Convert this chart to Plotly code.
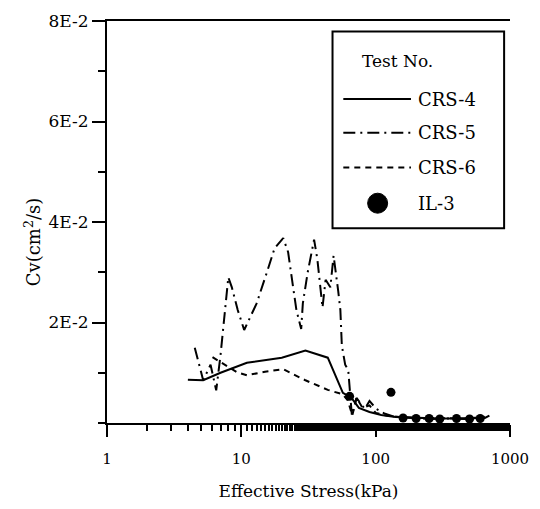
import plotly.graph_objects as go

# Effective stress (kPa) and coefficient of consolidation Cv (cm^2/s)
crs4_x = [4.0, 5.2, 7.0, 11.0, 20.0, 30.0, 44.0, 57.0, 66.0, 75.0, 90.0, 110.0, 140.0, 200.0, 300.0, 450.0, 650.0]
crs4_y = [0.0086, 0.0085, 0.0100, 0.0120, 0.0130, 0.0144, 0.0130, 0.0060, 0.0050, 0.0030, 0.0022,
          0.0016, 0.0012, 0.0010, 0.0009, 0.0009, 0.0010]

crs5_x = [4.5, 5.2, 5.9, 6.5, 7.0, 7.5, 8.0, 8.5, 9.4, 10.5, 13.0, 15.5, 17.7, 20.5, 22.3, 24.3,
          25.7, 27.9, 28.7, 31.2, 34.8, 36.8, 38.9, 40.2, 42.4, 46.0, 48.6, 50.0, 52.6, 54.6, 56.0,
          59.3, 62.5, 66.5, 72.0, 83.0, 90.0, 101.0, 116.0, 140.0, 180.0, 250.0, 350.0, 500.0,
          650.0, 720.0]
crs5_y = [0.0150, 0.0085, 0.0116, 0.0065, 0.0135, 0.0210, 0.0290, 0.0270, 0.0225, 0.0185, 0.0238,
          0.0300, 0.0348, 0.0368, 0.0340, 0.0270, 0.0225, 0.0187, 0.0238, 0.0300, 0.0365, 0.0326,
          0.0269, 0.0230, 0.0285, 0.0270, 0.0333, 0.0310, 0.0263, 0.0225, 0.0154, 0.0116, 0.0105,
          0.0015, 0.0050, 0.0028, 0.0044, 0.0028, 0.0019, 0.0012, 0.0010, 0.0008, 0.0009, 0.0008,
          0.0010, 0.0016]

crs6_x = [6.1, 9.3, 11.0, 15.0, 20.5, 30.0, 44.0, 57.0, 62.0, 67.0, 72.0, 80.0, 90.0, 100.0,
          120.0, 150.0, 200.0, 300.0, 450.0, 650.0]
crs6_y = [0.0131, 0.0101, 0.0095, 0.0102, 0.0107, 0.0085, 0.0066, 0.0057, 0.0045, 0.0015, 0.0050,
          0.0030, 0.0035, 0.0020, 0.0015, 0.0012, 0.0010, 0.0009, 0.0009, 0.0012]

il3_x = [64.0, 130.0, 160.0, 200.0, 250.0, 300.0, 400.0, 500.0, 600.0]
il3_y = [0.0053, 0.0061, 0.0010, 0.0009, 0.0009, 0.0008, 0.0009, 0.0008, 0.0009]

series_names = ["CRS-4", "CRS-5", "CRS-6", "IL-3"]
legend_title = "Test No."
y_title = "Cv(cm<sup>2</sup>/s)"
x_title = "Effective Stress(kPa)"

y_ticks = [0.02, 0.04, 0.06, 0.08]
y_tick_labels = ["2E-2", "4E-2", "6E-2", "8E-2"]
x_ticks = [1, 10, 100, 1000]
x_tick_labels = ["1", "10", "100", "1000"]

FONT = "DejaVu Serif"
W, H = 540, 509
ML, MR, MT, MB = 107, 22, 11, 81
PW, PH = W - ML - MR, H - MT - MB

SOLID = "solid"
DASHDOT = "12px,5px,2px,5px"
DASHED = "6px,5px"


def px(xp):
    """Horizontal pixel position -> paper fraction."""
    return (xp - ML) / PW


def py(yp):
    """Vertical pixel position (from top) -> paper fraction."""
    return (H - MB - yp) / PH


fig = go.Figure()
fig.add_trace(go.Scatter(x=crs4_x, y=crs4_y, mode="lines", name=series_names[0],
                         line=dict(color="black", width=2, dash=SOLID)))
fig.add_trace(go.Scatter(x=crs5_x, y=crs5_y, mode="lines", name=series_names[1],
                         line=dict(color="black", width=2, dash=DASHDOT)))
fig.add_trace(go.Scatter(x=crs6_x, y=crs6_y, mode="lines", name=series_names[2],
                         line=dict(color="black", width=2, dash=DASHED)))
fig.add_trace(go.Scatter(x=il3_x, y=il3_y, mode="markers", name=series_names[3],
                         marker=dict(color="black", size=9)))

# Boxed key in the upper right of the plot
box_l, box_r, box_t, box_b = 337, 512, 22, 226
shapes = [dict(type="rect", xref="paper", yref="paper",
               x0=px(box_l), x1=px(box_r), y0=py(box_b), y1=py(box_t),
               line=dict(color="black", width=2), fillcolor="white", layer="above")]
annotations = [dict(text=legend_title, xref="paper", yref="paper", x=px(403), y=py(53),
                    xanchor="center", yanchor="middle", showarrow=False,
                    font=dict(family=FONT, size=17, color="black"))]
row_y = [92, 127, 163, 200]
for name, dash, ry in zip(series_names[:3], [SOLID, DASHDOT, DASHED], row_y[:3]):
    shapes.append(dict(type="line", xref="paper", yref="paper",
                       x0=px(348), x1=px(417), y0=py(ry), y1=py(ry),
                       line=dict(color="black", width=2, dash=dash), layer="above"))
for name, ry in zip(series_names, row_y):
    annotations.append(dict(text=name, xref="paper", yref="paper", x=px(422), y=py(ry),
                            xanchor="left", yanchor="middle", showarrow=False,
                            font=dict(family=FONT, size=18, color="black")))
shapes.append(dict(type="circle", xref="paper", yref="paper",
                   xsizemode="pixel", ysizemode="pixel",
                   xanchor=px(383), yanchor=py(row_y[3]),
                   x0=-10, x1=10, y0=-10, y1=10,
                   line=dict(color="black", width=1), fillcolor="black", layer="above"))

# Vertical axis title, set a little below the middle of the axis
annotations.append(dict(text=y_title, xref="paper", yref="paper", x=px(31), y=py(240),
                        xanchor="center", yanchor="middle", textangle=-90, showarrow=False,
                        font=dict(family=FONT, size=18, color="black")))

fig.update_layout(
    width=W, height=H,
    margin=dict(l=ML, r=MR, t=MT, b=MB),
    paper_bgcolor="white", plot_bgcolor="white",
    font=dict(family=FONT, color="black", size=15),
    showlegend=False,
    shapes=shapes,
    annotations=annotations,
)

fig.update_xaxes(
    type="log", range=[0, 3],
    tickvals=x_ticks, ticktext=x_tick_labels,
    ticks="outside", ticklen=12, tickwidth=2, tickcolor="black",
    minor=dict(ticks="outside", ticklen=6, tickwidth=1.5, tickcolor="black", showgrid=False),
    showline=True, linecolor="black", linewidth=2, mirror=True,
    showgrid=False, zeroline=False,
    tickfont=dict(family=FONT, size=15),
    ticklabelstandoff=9,
    title=dict(text=x_title, font=dict(family=FONT, size=17), standoff=18),
)
fig.update_yaxes(
    range=[0, 0.08],
    tickvals=y_ticks, ticktext=y_tick_labels,
    ticks="outside", ticklen=13, tickwidth=1.5, tickcolor="black",
    minor=dict(dtick=0.01, tick0=0, ticks="outside", ticklen=7, tickwidth=1.5,
               tickcolor="black", showgrid=False),
    showline=True, linecolor="black", linewidth=2,
    showgrid=False, zeroline=False,
    tickfont=dict(family=FONT, size=17),
    ticklabeloverflow="allow",
)

fig.write_html("out.html")
